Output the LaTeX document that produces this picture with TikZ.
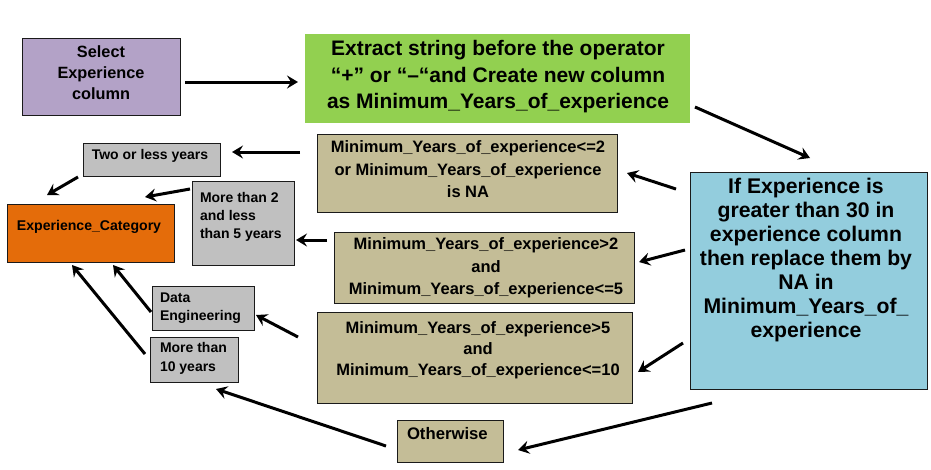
\documentclass[tikz,border=0pt]{standalone}
\usepackage{fontspec}
\setmainfont{Liberation Sans}
\usetikzlibrary{arrows.meta,calc}
\definecolor{cpurple}{HTML}{B3A2C7}
\definecolor{cgreen}{HTML}{92D050}
\definecolor{ctan}{HTML}{C4BD97}
\definecolor{cblue}{HTML}{93CDDD}
\definecolor{cgray}{HTML}{C0C0C0}
\definecolor{corange}{HTML}{E46C0A}
\definecolor{cborder}{HTML}{1A1A1A}
\begin{document}
\begin{tikzpicture}[x=1pt,y=-1pt,
  box/.style={draw=cborder,line width=0.8pt,inner sep=0pt,outer sep=0pt,anchor=north west},
  nobox/.style={inner sep=0pt,outer sep=0pt,anchor=north west},
  arr/.style={line width=3pt,-{Stealth[length=11pt,width=13pt,inset=4pt]}},
  txt/.style={inner sep=0pt,outer sep=0pt,text=black}]
\useasboundingbox (0,0) rectangle (931,469);
\fill[white] (0,0) rectangle (931,469);

% boxes
\node[box,fill=cpurple,minimum width=158pt,minimum height=77pt] (sel) at (22,38) {};
\node[nobox,fill=cgreen,minimum width=385pt,minimum height=89pt] (ext) at (305,34) {};
\node[box,fill=ctan,minimum width=300pt,minimum height=78pt] (c1) at (317,134) {};
\node[box,fill=ctan,minimum width=300pt,minimum height=71pt] (c2) at (334,232) {};
\node[box,fill=ctan,minimum width=315pt,minimum height=91pt] (c3) at (317,312) {};
\node[box,fill=cblue,minimum width=237pt,minimum height=217pt] (blue) at (690,172) {};
\node[box,fill=ctan,minimum width=106pt,minimum height=42pt] (oth) at (397,420) {};
\node[box,fill=cgray,minimum width=137pt,minimum height=33pt] (two) at (83,143) {};
\node[box,fill=corange,minimum width=167pt,minimum height=58pt] (cat) at (7,204) {};
\node[box,fill=cgray,minimum width=102pt,minimum height=84pt] (m2) at (192,181) {};
\node[box,fill=cgray,minimum width=102pt,minimum height=44pt] (de) at (152,286) {};
\node[box,fill=cgray,minimum width=88pt,minimum height=45pt] (m10) at (150,337) {};

% texts
\node[txt,align=center,font=\bfseries\fontsize{16.3}{21}\selectfont] (selt) at (101,73) {Select\\Experience\\column};
\node[txt,align=center,font=\bfseries\fontsize{21}{26.5}\selectfont] (extt) at (498,77) {Extract string before the operator\\“+” or “–“and Create new column\\as Minimum\_Years\_of\_experience};
\node[txt,align=center,font=\bfseries\fontsize{16.5}{22.5}\selectfont] (c1t) at (468,169.5) {Minimum\_Years\_of\_experience<=2\\or Minimum\_Years\_of\_experience\\is NA};
\node[txt,align=center,font=\bfseries\fontsize{16.5}{22.5}\selectfont] (c2t) at (486,268) {Minimum\_Years\_of\_experience>2\\and\\Minimum\_Years\_of\_experience<=5};
\node[txt,align=center,font=\bfseries\fontsize{16.5}{21}\selectfont] (c3t) at (478,350.5) {Minimum\_Years\_of\_experience>5\\and\\Minimum\_Years\_of\_experience<=10};
\node[txt,align=center,font=\bfseries\fontsize{21.2}{24}\selectfont] (bluet) at (806,260.5) {If Experience is\\greater than 30 in\\experience column\\then replace them by\\NA in\\Minimum\_Years\_of\_\\experience};
\node[txt,anchor=west,font=\bfseries\fontsize{16.7}{20}\selectfont] (otht) at (407,433.5) {Otherwise};
\node[txt,font=\bfseries\fontsize{14}{18}\selectfont] (twot) at (150,156) {Two or less years};
\node[txt,font=\bfseries\fontsize{14.1}{18}\selectfont] (catt) at (89,226.5) {Experience\_Category};
\node[txt,anchor=west,align=left,font=\bfseries\fontsize{14}{18.3}\selectfont] (m2t) at (200,216.7) {More than 2\\and less\\than 5 years};
\node[txt,anchor=west,align=left,font=\bfseries\fontsize{14}{18.3}\selectfont] (det) at (160,308) {Data\\Engineering};
\node[txt,anchor=west,align=left,font=\bfseries\fontsize{14}{18.3}\selectfont] (m10t) at (160,358.5) {More than\\10 years};

% connectors
\draw[arr] ($(sel.east)+(5,5.5)$) -- ($(ext.west)+(-7,3.5)$);
\draw[arr] ($(ext.east)+(5,28.5)$) -- ($(blue.north)+(1.5,-14)$);
\draw[arr] ($(blue.west)+(-14,-91.5)$) -- ($(c1.east)+(10,0)$);
\draw[arr] ($(blue.west)+(-5,-30.5)$) -- ($(c2.east)+(5,-5.5)$);
\draw[arr] ($(blue.west)+(-7,62.5)$) -- ($(c3.east)+(6,14.5)$);
\draw[arr] ($(blue.south)+(-96.5,14)$) -- ($(oth.east)+(15,9)$);
\draw[arr] ($(c1.west)+(-17,-21)$) -- ($(two.east)+(12,-7.5)$);
\draw[arr] ($(c2.west)+(-7,-27.5)$) -- ($(m2.east)+(2,17)$);
\draw[arr] ($(c3.west)+(-19,-20.5)$) -- ($(de.east)+(2,7)$);
\draw[arr] ($(oth.west)+(-11,5)$) -- ($(m10.south)+(22,7)$);
\draw[arr] ($(two.south west)+(-5,1)$) -- ($(cat.north)+(-43.5,-9)$);
\draw[arr] ($(m2.west)+(-2,-34)$) -- ($(cat.north east)+(-29,-7)$);
\draw[arr] ($(de.west)+(-1,4)$) -- ($(cat.south)+(22.5,3)$);
\draw[arr] ($(m10.west)+(-5,-5.5)$) -- ($(cat.south)+(-18.5,3)$);
\end{tikzpicture}
\end{document}
